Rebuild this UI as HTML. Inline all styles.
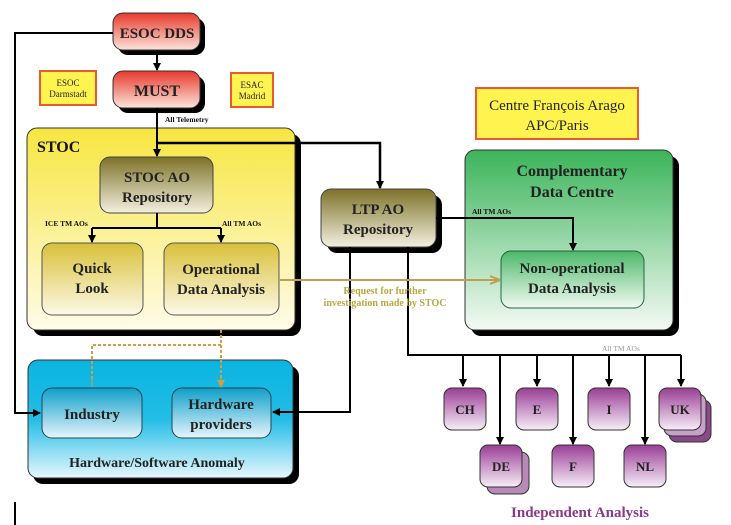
<!DOCTYPE html>
<html><head><meta charset="utf-8"><style>
html,body{margin:0;padding:0;background:#fff;}
svg{display:block;font-family:"Liberation Serif",serif;font-weight:bold;}
</style></head><body>
<svg width="731" height="525" viewBox="0 0 731 525" xmlns="http://www.w3.org/2000/svg">
<defs>
<linearGradient id="red" x1="0" y1="0" x2="0" y2="1"><stop offset="0" stop-color="#e8392a"/><stop offset="1" stop-color="#fbe4dc"/></linearGradient>
<linearGradient id="yel" x1="0" y1="0" x2="0" y2="1"><stop offset="0" stop-color="#f7e640"/><stop offset="1" stop-color="#fffbe8"/></linearGradient>
<linearGradient id="olive" x1="0" y1="0" x2="0" y2="1"><stop offset="0" stop-color="#7d7228"/><stop offset="1" stop-color="#f3f0e0"/></linearGradient>
<linearGradient id="gold" x1="0" y1="0" x2="0" y2="1"><stop offset="0" stop-color="#d8c038"/><stop offset="1" stop-color="#fdf9e8"/></linearGradient>
<linearGradient id="green" x1="0" y1="0" x2="0" y2="1"><stop offset="0" stop-color="#3bb45a"/><stop offset="1" stop-color="#f4faf4"/></linearGradient>
<linearGradient id="green2" x1="0" y1="0" x2="0" y2="1"><stop offset="0" stop-color="#4cb869"/><stop offset="1" stop-color="#f2faf3"/></linearGradient>
<linearGradient id="blue" x1="0" y1="0" x2="0" y2="1"><stop offset="0" stop-color="#0ab4e0"/><stop offset="0.5" stop-color="#22bde6"/><stop offset="1" stop-color="#e8f7fd"/></linearGradient>
<linearGradient id="blue2" x1="0" y1="0" x2="0" y2="1"><stop offset="0" stop-color="#0e9fc9"/><stop offset="1" stop-color="#e6f5fb"/></linearGradient>
<linearGradient id="pur" x1="0" y1="0" x2="0" y2="1"><stop offset="0" stop-color="#9a3d96"/><stop offset="1" stop-color="#f7eef7"/></linearGradient>
<marker id="ar" markerWidth="8" markerHeight="8" refX="7" refY="4" orient="auto" markerUnits="userSpaceOnUse"><path d="M0,0 L8,4 L0,8 z" fill="#000"/></marker>
<marker id="ag" markerWidth="10" markerHeight="10" refX="9" refY="5" orient="auto" markerUnits="userSpaceOnUse"><path d="M0,1 L10,5 L0,9" fill="none" stroke="#c0a050" stroke-width="2"/></marker>
<marker id="ad" markerWidth="8" markerHeight="8" refX="7" refY="4" orient="auto" markerUnits="userSpaceOnUse"><path d="M0,0 L8,4 L0,8 z" fill="#d0a040"/></marker>
</defs>

<g fill="#000">
<rect x="118" y="18" width="87" height="37" rx="10"/>
<rect x="118" y="76" width="87" height="37" rx="10"/>
<rect x="33" y="134" width="268" height="202" rx="10"/>
<rect x="33" y="366" width="266" height="118" rx="10"/>
<rect x="327" y="195" width="115" height="58" rx="10"/>
<rect x="471" y="156" width="208" height="180" rx="10"/>
</g>

<rect x="113" y="13" width="87" height="37" rx="10" fill="url(#red)" stroke="#333"/>
<rect x="113" y="71" width="87" height="37" rx="10" fill="url(#red)" stroke="#333"/>
<rect x="40" y="71" width="56" height="34" fill="#fff44f" stroke="#e85a30" stroke-width="2"/>
<rect x="231" y="73" width="42" height="34" fill="#fff44f" stroke="#e85a30" stroke-width="2"/>
<rect x="476" y="88" width="162" height="51" fill="#fff44f" stroke="#e85a30" stroke-width="2"/>

<rect x="27" y="128" width="268" height="202" rx="10" fill="url(#yel)" stroke="#333"/>
<rect x="100" y="157" width="113" height="56" rx="10" fill="url(#olive)" stroke="#444"/>
<rect x="42" y="243" width="101" height="72" rx="10" fill="url(#gold)" stroke="#555"/>
<rect x="164" y="243" width="115" height="72" rx="10" fill="url(#gold)" stroke="#555"/>

<rect x="28" y="360" width="265" height="118" rx="10" fill="url(#blue)" stroke="#333"/>
<rect x="42" y="388" width="100" height="50" rx="10" fill="url(#blue2)" stroke="#245"/>
<rect x="172" y="388" width="99" height="50" rx="10" fill="url(#blue2)" stroke="#245"/>

<rect x="465" y="150" width="208" height="180" rx="10" fill="url(#green)" stroke="#333"/>
<rect x="501" y="251" width="143" height="57" rx="10" fill="url(#green2)" stroke="#264"/>

<rect x="321" y="189" width="115" height="58" rx="10" fill="url(#olive)" stroke="#444"/>

<g stroke="#333">
<rect x="669" y="400" width="42" height="42" rx="8" fill="#8a4a8a"/>
<rect x="664" y="394" width="42" height="42" rx="8" fill="#c9a0c9"/>
<rect x="487" y="452" width="42" height="42" rx="8" fill="#b88ab8"/>
<rect x="444" y="388" width="42" height="42" rx="8" fill="url(#pur)"/>
<rect x="516" y="388" width="42" height="42" rx="8" fill="url(#pur)"/>
<rect x="588" y="388" width="42" height="42" rx="8" fill="url(#pur)"/>
<rect x="659" y="388" width="42" height="42" rx="8" fill="url(#pur)"/>
<rect x="480" y="445" width="42" height="42" rx="8" fill="url(#pur)"/>
<rect x="552" y="445" width="42" height="42" rx="8" fill="url(#pur)"/>
<rect x="624" y="445" width="42" height="42" rx="8" fill="url(#pur)"/>
</g>

<!-- connectors on top -->
<g stroke="#000" stroke-width="2" fill="none">
<path d="M113,33 H15 V413 H40" marker-end="url(#ar)"/>
<path d="M15,502 V525"/>
<path d="M157,50 V70" marker-end="url(#ar)"/>
<path d="M157,108 V156" marker-end="url(#ar)"/>
<path d="M157,143 H380 V188" stroke-width="2.5" marker-end="url(#ar)"/>
<path d="M157,213 V228 M92,228 H221"/>
<path d="M92,228 V242" marker-end="url(#ar)"/>
<path d="M221,228 V242" marker-end="url(#ar)"/>
<path d="M436,218 H573 V250" marker-end="url(#ar)"/>
<path d="M350,247 V412 H273" marker-end="url(#ar)"/>
<path d="M408,247 V355 H681"/>
<path d="M463,355 V386" marker-end="url(#ar)"/>
<path d="M500,355 V444" marker-end="url(#ar)"/>
<path d="M537,355 V386" marker-end="url(#ar)"/>
<path d="M573,355 V444" marker-end="url(#ar)"/>
<path d="M609,355 V386" marker-end="url(#ar)"/>
<path d="M645,355 V444" marker-end="url(#ar)"/>
<path d="M681,355 V386" marker-end="url(#ar)"/>
</g>
<path d="M279,280 H499" stroke="#c0a050" stroke-width="2" fill="none" marker-end="url(#ag)"/>
<path d="M221,330 V345 H92 V380 M221,345 V380" stroke="#d0a040" stroke-width="2" stroke-dasharray="3,2" fill="none"/>
<path d="M92,378 V387 M221,378 V387" stroke="#d0a040" stroke-width="1" marker-end="url(#ad)"/>

<g text-anchor="middle" fill="#222">
<text x="157" y="38" font-size="15">ESOC DDS</text>
<text x="157" y="96" font-size="16">MUST</text>
<text x="68" y="86" font-size="9" font-weight="normal">ESOC</text>
<text x="68" y="97" font-size="9" font-weight="normal">Darmstadt</text>
<text x="252" y="88" font-size="9" font-weight="normal">ESAC</text>
<text x="252" y="99" font-size="9" font-weight="normal">Madrid</text>
<text x="557" y="110" font-size="15" font-weight="normal">Centre François Arago</text>
<text x="557" y="130" font-size="15" font-weight="normal">APC/Paris</text>
<text x="157" y="182" font-size="15">STOC AO</text>
<text x="157" y="202" font-size="15">Repository</text>
<text x="92" y="273" font-size="15">Quick</text>
<text x="92" y="293" font-size="15">Look</text>
<text x="221" y="274" font-size="15">Operational</text>
<text x="221" y="294" font-size="15">Data Analysis</text>
<text x="378" y="214" font-size="15">LTP AO</text>
<text x="378" y="234" font-size="15">Repository</text>
<text x="572" y="176" font-size="16">Complementary</text>
<text x="572" y="197" font-size="16">Data Centre</text>
<text x="572" y="273" font-size="15">Non-operational</text>
<text x="572" y="293" font-size="15">Data Analysis</text>
<text x="92" y="419" font-size="15">Industry</text>
<text x="221" y="409" font-size="15">Hardware</text>
<text x="221" y="429" font-size="15">providers</text>
<text x="157" y="467" font-size="14">Hardware/Software Anomaly</text>
<text x="385" y="294" font-size="10" fill="#b8a840">Request for further</text>
<text x="385" y="306" font-size="10" fill="#b8a840">investigation made by STOC</text>
<text x="465" y="414" font-size="13">CH</text>
<text x="537" y="414" font-size="13">E</text>
<text x="609" y="414" font-size="13">I</text>
<text x="680" y="414" font-size="13">UK</text>
<text x="501" y="471" font-size="13">DE</text>
<text x="573" y="471" font-size="13">F</text>
<text x="645" y="471" font-size="13">NL</text>
<text x="580" y="517" font-size="15" fill="#8a3a8a">Independent Analysis</text>
</g>
<g fill="#111" font-size="7.5">
<text x="37" y="152" font-size="16">STOC</text>
<text x="165" y="122">All Telemetry</text>
<text x="45" y="226">ICE TM AOs</text>
<text x="222" y="226">All TM AOs</text>
<text x="472" y="214">All TM AOs</text>
<text x="602" y="351" fill="#999" font-weight="normal">All TM AOs</text>
</g>
</svg>
</body></html>
